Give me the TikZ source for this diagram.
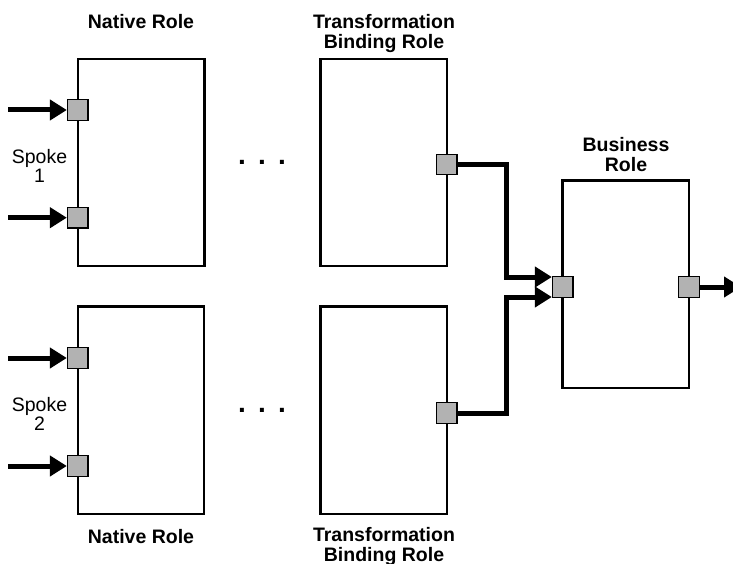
\documentclass[tikz,border=0pt]{standalone}
\usepackage{fontspec}
\setmainfont{Liberation Sans}
\usetikzlibrary{arrows.meta}
\begin{document}
\begin{tikzpicture}[x=1pt,y=-1pt,
  rolebox/.style={draw=black,line width=2.4pt,rectangle,inner sep=0pt,minimum width=126.5pt,minimum height=207.5pt},
  port/.style={draw=black,line width=1.2pt,fill=portgray,rectangle,inner sep=0pt,minimum size=20.5pt},
  conn/.style={draw=black,line width=5pt,line join=miter},
  tip/.tip={Triangle[length=17pt,width=20pt]},
  lbl/.style={font=\bfseries\fontsize{19.5}{19.5}\selectfont,align=center,inner sep=0pt},
  spk/.style={font=\fontsize{19.5}{19}\selectfont,align=center,inner sep=0pt},
  dotsl/.style={font=\bfseries\fontsize{28}{28}\selectfont,inner sep=0pt,anchor=base}
]
\definecolor{portgray}{RGB}{178,178,178}
\useasboundingbox (0,0) rectangle (733,564);

% boxes
\node[rolebox] (nr1) at (141.1,162.5) {};
\node[rolebox] (tb1) at (383.9,162.5) {};
\node[rolebox] (nr2) at (141.0,410.3) {};
\node[rolebox] (tb2) at (383.9,410.3) {};
\node[rolebox] (br) at (625.9,284.4) {};

% labels
\node[lbl,anchor=base] (lnr1) at (141,29) {Native Role};
\node[lbl] (ltb1) at (384,33.4) {Transformation\\Binding Role};
\node[lbl] (lbr) at (626,154.5) {Business\\Role};
\node[lbl,anchor=base] (lnr2) at (141,543) {Native Role};
\node[lbl] (ltb2) at (384,546.7) {Transformation\\Binding Role};

\node[spk] (sp1) at (39.5,166.3) {Spoke\\1};
\node[spk] (sp2) at (39.5,414.2) {Spoke\\2};

\node[dotsl] (dots1) at (262,164.7) {.\hspace{12.2pt}.\hspace{12.2pt}.};
\node[dotsl] (dots2) at (262,412.5) {.\hspace{12.2pt}.\hspace{12.2pt}.};

% ports
\node[port] (np11) at (77.7,110) {};
\node[port] (np12) at (77.7,217.7) {};
\node[port] (np21) at (77.7,358) {};
\node[port] (np22) at (77.7,466) {};
\node[port] (tp1) at (446.7,164.5) {};
\node[port] (tp2) at (446.7,413) {};
\node[port] (bpin) at (562.7,287) {};
\node[port] (bpout) at (689,287) {};

% free ends of connectors
\coordinate (in11) at (8,110);
\coordinate (in12) at (8,217.7);
\coordinate (in21) at (8,358);
\coordinate (in22) at (8,466);
\coordinate (outend) at (741,287);

% connectors
\draw[conn,-tip] (in11) -- (np11.west);
\draw[conn,-tip] (in12) -- (np12.west);
\draw[conn,-tip] (in21) -- (np21.west);
\draw[conn,-tip] (in22) -- (np22.west);
\draw[conn,-tip] (tp1.east) -- ++(49,0) |- ([yshift=10pt]bpin.west);
\draw[conn,-tip] (tp2.east) -- ++(49,0) |- ([yshift=-10pt]bpin.west);
\draw[conn,-tip] (bpout.east) -- (outend);
\end{tikzpicture}
\end{document}
